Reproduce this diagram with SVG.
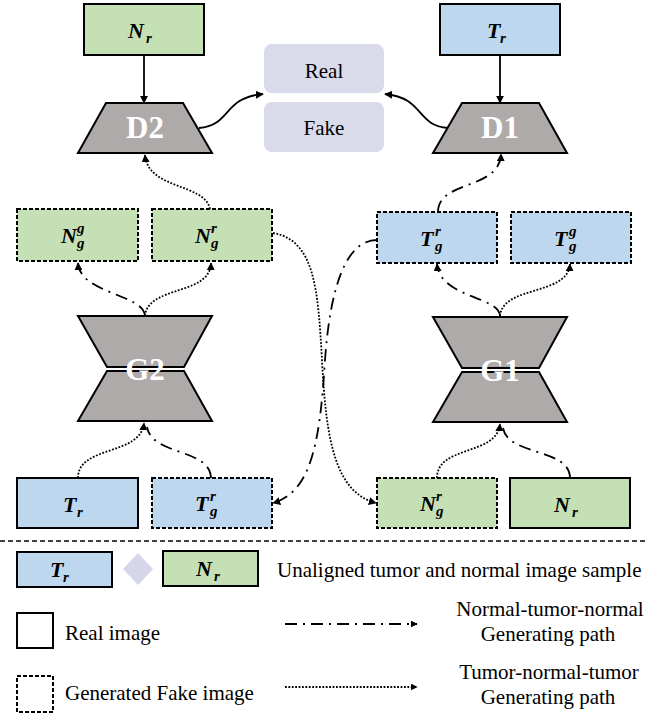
<svg xmlns="http://www.w3.org/2000/svg" width="647" height="715" viewBox="0 0 647 715">
<style>
.sol{stroke:#000;stroke-width:2}
.dsh{stroke:#000;stroke-width:2;stroke-dasharray:4,2}
.gr{fill:#c5e0b4}
.bl{fill:#bdd7ee}
.trap{fill:#aeaaaa;stroke:#000;stroke-width:2}
.big{font-weight:bold;font-size:31px;fill:#fff;text-anchor:middle}
.m{font-weight:bold;font-style:italic;font-size:22px;fill:#000}
.s{font-size:15px}
.t{font-size:21px;fill:#000}
.c{fill:none;stroke:#000;stroke-width:1.8}
.dd{stroke-dasharray:12,6,2,6}
.dt{stroke-dasharray:1.8,1.6}
.rf{fill:#d9daea}
</style>
<defs>
<marker id="ah" viewBox="0 0 10 10" refX="9" refY="5" markerWidth="8" markerHeight="8" markerUnits="userSpaceOnUse" orient="auto"><path d="M0,0 L10,5 L0,10 z" fill="#000"/></marker>
<marker id="ahs" viewBox="0 0 10 10" refX="9" refY="5" markerWidth="7" markerHeight="7" markerUnits="userSpaceOnUse" orient="auto"><path d="M0,0 L10,5 L0,10 z" fill="#000"/></marker>
</defs>

<g id="connectors">
<path class="c" d="M144,55 L144,103" marker-end="url(#ah)"/>
<path class="c" d="M500,55 L500,103" marker-end="url(#ah)"/>
<path class="c" d="M199,128 C232,125 222,98 263,94" marker-end="url(#ah)"/>
<path class="c" d="M448,128 C415,125 425,98 385,94" marker-end="url(#ah)"/>
<path class="c dt" d="M210,209 C205,183 148,190 145,155" marker-end="url(#ah)"/>
<path class="c dd" d="M145,316 C144,294 80,294 78,263" marker-end="url(#ah)"/>
<path class="c dt" d="M145,316 C148,285 210,296 211,263" marker-end="url(#ah)"/>
<path class="c dt" d="M78,478 C78,445 141,456 144,423" marker-end="url(#ah)"/>
<path class="c dd" d="M211,478 C210,448 152,456 147,427"/>
<path class="c dd" d="M500,316 C499,296 440,298 437,264" marker-end="url(#ah)"/>
<path class="c dt" d="M500,316 C503,285 568,296 570,264" marker-end="url(#ah)"/>
<path class="c dd" d="M438,212 C438,180 500,190 501,154" marker-end="url(#ah)"/>
<path class="c dt" d="M273,233 C315,240 318,290 322,360 C326,440 335,492 376,503" marker-end="url(#ah)"/>
<path class="c dd" d="M377,240 C345,240 330,290 325,360 C320,440 312,492 273,503" marker-end="url(#ah)"/>
<path class="c dt" d="M437,478 C437,445 497,456 500,424" marker-end="url(#ah)"/>
<path class="c dd" d="M570,478 C570,448 508,456 503,428"/>
<path class="c dd" d="M285,624 L417,624" marker-end="url(#ahs)"/>
<path class="c dt" d="M285,687 L417,687" marker-end="url(#ahs)"/>
</g>

<g font-family="Liberation Serif, Times New Roman, DejaVu Serif, serif">
<g id="Nr_top"><rect class="gr sol" x="84" y="4" width="120" height="51"/><text class="m" x="128" y="38">N</text><text class="m s" x="146" y="43">r</text></g>
<g id="Tr_top"><rect class="bl sol" x="440" y="4" width="120" height="51"/><text class="m" x="487" y="38">T</text><text class="m s" x="500" y="43">r</text></g>

<g id="real"><rect class="rf" x="264" y="44" width="120" height="49" rx="8"/><text class="t" x="324" y="78" text-anchor="middle" font-size="22">Real</text></g>
<g id="fake"><rect class="rf" x="264" y="102" width="120" height="50" rx="8"/><text class="t" x="324" y="135" text-anchor="middle" font-size="22">Fake</text></g>

<g id="D2"><path class="trap" d="M106,103 L183,103 L212,153 L78,153 Z"/><text class="big" x="145" y="138">D2</text></g>
<g id="D1"><path class="trap" d="M462,103 L539,103 L567,153 L433,153 Z"/><text class="big" x="500" y="138">D1</text></g>

<g id="Ngg"><rect class="gr dsh" x="17" y="209" width="121" height="52"/><text class="m" x="61" y="243">N</text><text class="m s" x="77" y="233">g</text><text class="m s" x="77" y="248">g</text></g>
<g id="Ngr"><rect class="gr dsh" x="152" y="209" width="120" height="52"/><text class="m" x="195" y="243">N</text><text class="m s" x="211" y="233">r</text><text class="m s" x="211" y="248">g</text></g>
<g id="Tgr"><rect class="bl dsh" x="377" y="212" width="120" height="51"/><text class="m" x="420" y="246">T</text><text class="m s" x="435" y="236">r</text><text class="m s" x="435" y="251">g</text></g>
<g id="Tgg"><rect class="bl dsh" x="511" y="212" width="120" height="51"/><text class="m" x="554" y="246">T</text><text class="m s" x="569" y="236">g</text><text class="m s" x="569" y="251">g</text></g>

<g id="G2"><path class="trap" d="M78,316 L212,316 L184,367 L107,367 Z"/><path class="trap" d="M107,371 L184,371 L212,421 L78,421 Z"/><text class="big" x="145" y="380">G2</text></g>
<g id="G1"><path class="trap" d="M433,317 L567,317 L539,368 L462,368 Z"/><path class="trap" d="M462,372 L539,372 L567,422 L433,422 Z"/><text class="big" x="500" y="381">G1</text></g>

<g id="Tr_bot"><rect class="bl sol" x="17" y="478" width="121" height="50"/><text class="m" x="63" y="512">T</text><text class="m s" x="77" y="517">r</text></g>
<g id="Tgr_bot"><rect class="bl dsh" x="152" y="478" width="120" height="50"/><text class="m" x="195" y="511">T</text><text class="m s" x="210" y="501">r</text><text class="m s" x="210" y="516">g</text></g>
<g id="Ngr_bot"><rect class="gr dsh" x="377" y="478" width="120" height="50"/><text class="m" x="420" y="511">N</text><text class="m s" x="436" y="501">r</text><text class="m s" x="436" y="516">g</text></g>
<g id="Nr_bot"><rect class="gr sol" x="510" y="478" width="120" height="50"/><text class="m" x="554" y="512">N</text><text class="m s" x="572" y="517">r</text></g>

<line x1="0" y1="541" x2="647" y2="541" stroke="#000" stroke-width="1.5" stroke-dasharray="5,3"/>

<g id="legend">
<rect class="bl sol" x="17" y="552" width="95" height="35"/><text class="m" x="50" y="577">T</text><text class="m s" x="63" y="582">r</text>
<path d="M138,553 L153,569 L138,585 L123,569 Z" fill="#d5d6e9"/>
<rect class="gr sol" x="163" y="551" width="95" height="35"/><text class="m" x="196" y="576">N</text><text class="m s" x="214" y="581">r</text>
<text class="t" x="277" y="577">Unaligned tumor and normal image sample</text>
<rect x="17" y="613" width="36" height="35" fill="#fff" class="sol"/>
<text class="t" x="65" y="640">Real image</text>
<rect x="17" y="676" width="36" height="36" fill="#fff" class="dsh"/>
<text class="t" x="65" y="700">Generated Fake image</text>
<text class="t" x="550" y="616" text-anchor="middle">Normal-tumor-normal</text>
<text class="t" x="548" y="641" text-anchor="middle">Generating path</text>
<text class="t" x="549" y="679" text-anchor="middle">Tumor-normal-tumor</text>
<text class="t" x="548" y="704" text-anchor="middle">Generating path</text>
</g>
</g>
</svg>
